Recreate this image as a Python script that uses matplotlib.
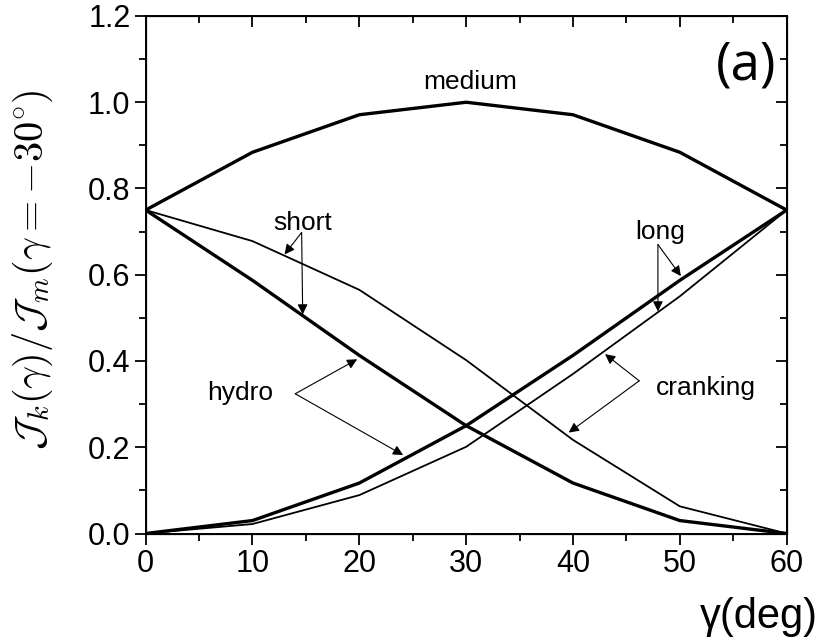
import matplotlib
matplotlib.use("Agg")
import matplotlib.pyplot as plt
from matplotlib.ticker import MultipleLocator

# ------ DATA ------
gamma = [0, 10, 20, 30, 40, 50, 60]
hydro_medium = [0.75, 0.884, 0.971, 1.0, 0.971, 0.884, 0.75]
hydro_short = [0.75, 0.587, 0.413, 0.25, 0.117, 0.030, 0.0]
hydro_long = [0.0, 0.030, 0.117, 0.25, 0.413, 0.587, 0.75]
crank_short = [0.75, 0.678, 0.565, 0.402, 0.217, 0.063, 0.0]
crank_long = [0.0, 0.022, 0.089, 0.201, 0.370, 0.550, 0.75]

x_ticks = [0, 10, 20, 30, 40, 50, 60]
y_ticks = [0.0, 0.2, 0.4, 0.6, 0.8, 1.0, 1.2]
y_tick_labels = ["0.0", "0.2", "0.4", "0.6", "0.8", "1.0", "1.2"]

plt.rcParams["font.family"] = ["Liberation Sans", "DejaVu Sans"]
plt.rcParams["mathtext.fontset"] = "cm"

fig = plt.figure(figsize=(8.22, 6.42), dpi=100)
ax = fig.add_axes([0.1772, 0.1690, 0.7798, 0.8061])

thick = 2.4
thin = 1.3
ax.plot(gamma, hydro_medium, color="black", lw=thick)
ax.plot(gamma, hydro_short, color="black", lw=thick)
ax.plot(gamma, hydro_long, color="black", lw=thick)
ax.plot(gamma, crank_short, color="black", lw=thin)
ax.plot(gamma, crank_long, color="black", lw=thin)

ax.set_xlim(0, 60)
ax.set_ylim(0, 1.2)
ax.set_xticks(x_ticks)
ax.set_yticks(y_ticks)
ax.set_yticklabels(y_tick_labels)
ax.xaxis.set_minor_locator(MultipleLocator(5))
ax.yaxis.set_minor_locator(MultipleLocator(0.1))
ax.tick_params(which="major", direction="out", length=8, width=1.3, labelsize=22, pad=3)
ax.tick_params(which="minor", direction="out", length=5, width=1.3)
for s in ax.spines.values():
    s.set_linewidth(1.4)

# mirrored ticks on top / right point inward
axt = ax.twiny()
axt.set_xlim(0, 60)
axt.set_xticks(x_ticks)
axt.xaxis.set_minor_locator(MultipleLocator(5))
axt.tick_params(which="major", direction="in", length=8, width=1.3, labeltop=False)
axt.tick_params(which="minor", direction="in", length=5, width=1.3)
axr = ax.twinx()
axr.set_ylim(0, 1.2)
axr.set_yticks(y_ticks)
axr.yaxis.set_minor_locator(MultipleLocator(0.1))
axr.tick_params(which="major", direction="in", length=8, width=1.3, labelright=False)
axr.tick_params(which="minor", direction="in", length=5, width=1.3)

fig.text(33 / 822, 1 - 270 / 642, r"$\mathcal{J}_k(\gamma)/\mathcal{J}_m(\gamma=-30^{\circ})$",
         rotation=90, ha="center", va="center", fontsize=29)
fig.text(818 / 822, 0.039, "γ(deg)", ha="right", va="center", fontsize=30)
ax.text(0.9365, 0.903, "(a)", transform=ax.transAxes, ha="center", va="center",
        fontsize=38, family=["Open Sans", "DejaVu Sans"])

# ------ ANNOTATIONS ------
fs = 19
arr = dict(arrowstyle="-|>", color="black", lw=0.8, mutation_scale=15, shrinkA=0, shrinkB=0)
ax.text(30.4, 1.046, "medium", ha="center", va="center", fontsize=fs)

ax.text(14.7, 0.721, "short", ha="center", va="center", fontsize=fs)
ax.annotate("", xy=(13.0, 0.647), xytext=(14.6, 0.698), arrowprops=arr)
ax.annotate("", xy=(14.7, 0.508), xytext=(14.6, 0.698), arrowprops=arr)

ax.text(48.2, 0.70, "long", ha="center", va="center", fontsize=fs)
ax.annotate("", xy=(50.1, 0.597), xytext=(47.95, 0.67), arrowprops=arr)
ax.annotate("", xy=(47.95, 0.515), xytext=(47.95, 0.67), arrowprops=arr)

ax.text(8.8, 0.325, "hydro", ha="center", va="center", fontsize=fs)
ax.annotate("", xy=(19.8, 0.404), xytext=(14.0, 0.324), arrowprops=arr)
ax.annotate("", xy=(24.1, 0.182), xytext=(14.0, 0.324), arrowprops=arr)

ax.text(52.4, 0.337, "cranking", ha="center", va="center", fontsize=fs)
ax.annotate("", xy=(43.0, 0.416), xytext=(46.2, 0.354), arrowprops=arr)
ax.annotate("", xy=(39.6, 0.234), xytext=(46.2, 0.354), arrowprops=arr)

fig.savefig("out.png", dpi=100)
